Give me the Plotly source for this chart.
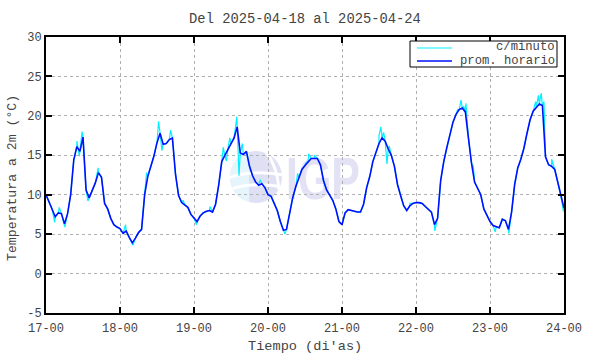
import plotly.graph_objects as go
import base64

# ---------------- data ----------------
day_labels = ["17-00", "18-00", "19-00", "20-00", "21-00", "22-00", "23-00", "24-00"]
y_tick_vals = [-5, 0, 5, 10, 15, 20, 25, 30]
y_tick_text = ["-5", "0", "5", "10", "15", "20", "25", "30"]
legend_names = ["c/minuto", "prom. horario"]

# hourly mean temperature (prom. horario), one value per hour
d17 = [10.0, 9.0, 8.2, 7.2, 7.7, 7.6, 6.3, 7.6, 10.0, 14.4, 16.1, 15.5, 17.3, 10.6, 9.6, 10.5,
       11.5, 12.8, 12.2, 8.9, 8.2, 7.0, 6.2, 5.9]
d18 = [5.7, 5.1, 5.4, 4.6, 3.9, 4.5, 5.2, 5.6, 10.0, 12.3, 13.6, 14.9, 16.6, 17.8, 16.4, 16.5,
       17.0, 17.2, 12.6, 9.9, 9.0, 8.7, 8.4, 7.5]
d19 = [7.0, 6.6, 7.3, 7.7, 7.9, 8.0, 7.8, 8.8, 11.2, 14.2, 15.0, 15.8, 16.5, 17.2, 18.6, 15.3,
       15.1, 15.5, 13.6, 12.4, 11.6, 11.2, 11.4, 10.9]
d20 = [10.0, 9.8, 8.9, 8.0, 6.6, 5.5, 5.6, 7.8, 9.6, 11.0, 12.2, 13.2, 13.7, 14.2, 14.6, 14.6,
       14.6, 13.8, 11.8, 10.6, 9.9, 9.3, 8.2, 6.6]
d21 = [6.2, 7.7, 8.1, 8.0, 7.9, 7.8, 7.8, 8.8, 10.9, 12.3, 14.2, 15.3, 16.5, 17.2, 16.8, 15.8,
       15.0, 13.6, 11.3, 9.9, 8.6, 8.0, 8.6, 8.9]
d22 = [9.0, 9.0, 8.9, 8.5, 8.1, 7.8, 6.2, 7.0, 11.8, 14.2, 16.0, 17.5, 19.2, 20.2, 20.8, 21.0,
       20.5, 17.2, 14.0, 11.6, 10.8, 10.0, 8.2, 7.3]
d23 = [6.6, 6.1, 5.9, 5.8, 6.9, 6.7, 5.6, 7.8, 11.3, 13.4, 14.5, 15.9, 17.8, 19.5, 20.6, 21.1,
       21.5, 21.3, 14.8, 13.8, 13.6, 13.2, 11.5, 9.8]
d24 = [8.3]

# minute-level excursions (hours since 17-00, value)
spike_hours = [2.8, 4.3, 6.1, 10.0, 10.8, 11.7, 13.6, 16.9,
               25.8, 28.2, 32.6, 36.5, 37.6, 40.4, 44.5,
               48.8, 53.2, 57.5, 58.5, 59.6, 61.9, 62.6, 63.7, 69.5,
               77.5, 81.6, 84.2, 85.2, 87.0,
               108.0, 108.6, 109.5, 110.6, 111.3, 118.0,
               126.1, 133.5, 134.6, 135.5, 136.2, 138.6,
               145.7, 150.1, 158.8, 159.7, 160.6, 161.5, 164.0, 167.8]
spike_vals = [6.5, 8.4, 5.9, 16.8, 14.9, 18.0, 9.2, 13.4,
              6.2, 3.6, 12.8, 19.3, 15.6, 18.2, 9.3,
              6.2, 8.5, 16.0, 14.3, 17.2, 19.9, 12.4, 16.5, 11.9,
              5.0, 12.7, 14.0, 15.2, 15.0,
              17.5, 18.6, 17.9, 13.9, 16.2, 8.9,
              5.4, 20.8, 22.0, 21.2, 21.6, 13.6,
              5.3, 5.1, 21.8, 22.6, 22.9, 21.8, 14.5, 7.9]

# ---------------- build ----------------
hourly = d17 + d18 + d19 + d20 + d21 + d22 + d23 + d24
hours = list(range(len(hourly)))
day_ticks = [24 * i for i in range(len(day_labels))]

pairs = sorted(list(zip(hours, hourly)) + list(zip(spike_hours, spike_vals)))
minute_x = [p[0] for p in pairs]
minute_y = [p[1] for p in pairs]

MONO = "Liberation Mono, Courier New, monospace"
TXT = "#444444"
CYAN = "#00f0ff"
BLUE = "#0010ff"

# plot-area geometry in page pixels
L, R, T, B = 46, 564, 37, 313
W, H = R - L, B - T


def px(xp):
    return (xp - L) / W


def py(yp):
    return (B - yp) / H


fig = go.Figure()
fig.add_trace(go.Scatter(x=minute_x, y=minute_y, mode="lines",
                         line=dict(color=CYAN, width=1.2), showlegend=False))
fig.add_trace(go.Scatter(x=hours, y=hourly, mode="lines",
                         line=dict(color=BLUE, width=1.6), showlegend=False))

# faint IGP watermark (behind data)
svg = """<svg xmlns='http://www.w3.org/2000/svg' width='134' height='54' viewBox='0 0 134 54'>
<defs><clipPath id='c'><circle cx='27' cy='27' r='26'/></clipPath></defs>
<g clip-path='url(#c)'>
<rect x='0' y='0' width='54' height='54' fill='#e0e0f4'/>
<rect x='0' y='0' width='20' height='54' fill='#e6f4fb'/>
<path d='M -5 30 Q 20 18 60 26' stroke='white' stroke-width='3' fill='none'/>
<path d='M -5 42 Q 20 30 60 38' stroke='white' stroke-width='3' fill='none'/>
<path d='M 30 -5 Q 48 10 50 40' stroke='white' stroke-width='3' fill='none'/>
</g>
<text x='57' y='49' font-family='Liberation Sans, Arial' font-weight='bold' font-size='60'
 textLength='74' lengthAdjust='spacingAndGlyphs' fill='#e2e2f4'>IGP</text>
</svg>"""
src = "data:image/svg+xml;base64," + base64.b64encode(svg.encode()).decode()
fig.add_layout_image(dict(source=src, xref="paper", yref="paper",
                          x=px(229), y=py(150), sizex=134 / W, sizey=54 / H,
                          xanchor="left", yanchor="top", sizing="stretch",
                          layer="below", opacity=1))

axis_common = dict(showline=True, linecolor="black", linewidth=2, mirror="allticks",
                   ticks="inside", ticklen=6, tickwidth=2, tickcolor="black",
                   showgrid=True, gridcolor="#b0b0b0", griddash="dot", gridwidth=1,
                   zeroline=False, automargin=False,
                   tickfont=dict(family=MONO, size=12, color=TXT))

fig.update_xaxes(range=[0, 168], tickmode="array", tickvals=day_ticks, ticktext=day_labels,
                 ticklabelstandoff=3, **axis_common)
fig.update_yaxes(range=[-5, 30], tickmode="array", tickvals=y_tick_vals, ticktext=y_tick_text,
                 **axis_common)

annotations = [
    dict(text="Tiempo (di'as)", xref="paper", yref="paper", x=px(305), y=py(346),
         xanchor="center", yanchor="middle", showarrow=False,
         font=dict(family=MONO, size=13.6, color=TXT)),
    dict(text="Temperatura a 2m (°C)", xref="paper", yref="paper", x=px(12), y=py(178),
         xanchor="center", yanchor="middle", showarrow=False, textangle=-90,
         font=dict(family=MONO, size=13.2, color=TXT)),
]
# manual legend (text right-aligned like the original)
shapes = [dict(type="rect", xref="paper", yref="paper", x0=px(410), x1=px(557),
               y0=py(67), y1=py(41), line=dict(color="black", width=1),
               fillcolor="white", layer="above")]
legend_rows = [47.5, 60.5]
legend_line_rows = [48, 61]
legend_colors = [CYAN, BLUE]
legend_widths = [1.2, 1.6]
for name, yrow, yline, col, lw in zip(legend_names, legend_rows, legend_line_rows,
                                      legend_colors, legend_widths):
    shapes.append(dict(type="line", xref="paper", yref="paper", x0=px(417), x1=px(452),
                       y0=py(yline), y1=py(yline), line=dict(color=col, width=lw),
                       layer="above"))
    annotations.append(dict(text=name, xref="paper", yref="paper", x=px(556), y=py(yrow),
                            xanchor="right", yanchor="middle", showarrow=False,
                            height=12, borderpad=0,
                            font=dict(family=MONO, size=12.2, color=TXT)))

fig.update_layout(
    width=590, height=354,
    margin=dict(l=L, r=590 - R, t=T, b=354 - B, autoexpand=False),
    paper_bgcolor="white", plot_bgcolor="white",
    title=dict(text="Del 2025-04-18 al 2025-04-24", x=px(305), xref="paper", xanchor="center",
               y=1 - 18 / 354, yanchor="middle",
               font=dict(family=MONO, size=13.8, color=TXT)),
    annotations=annotations,
    shapes=shapes,
    showlegend=False,
)

fig.write_html("out.html")
